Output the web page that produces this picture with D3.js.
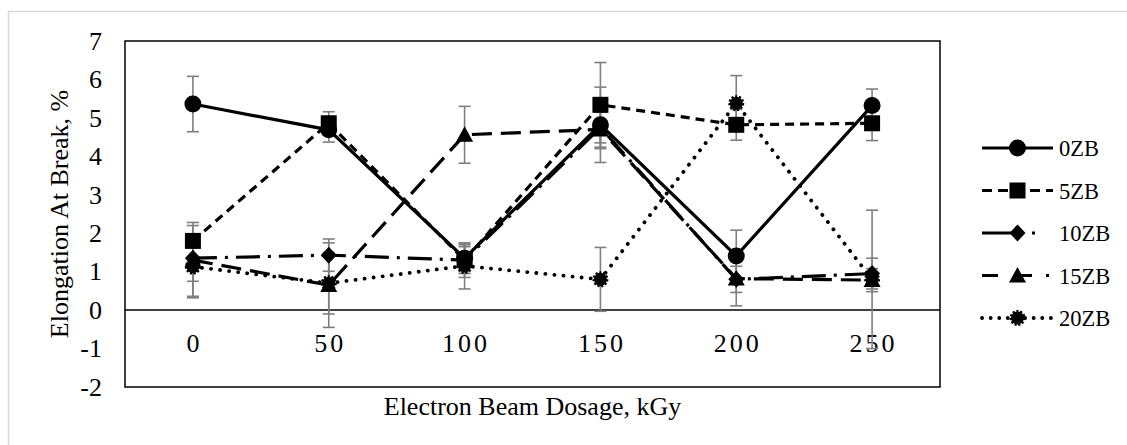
<!DOCTYPE html>
<html>
<head>
<meta charset="utf-8">
<script src="https://cdn.jsdelivr.net/npm/d3@7"></script>
<style>
  body { margin: 0; background: #fff; }
  text { font-family: "Liberation Serif", "Times New Roman", serif; fill: #000; }
</style>
</head>
<body>
<div id="chart"></div>
<script>
// dosage categories
const doses = ["0", "50", "100", "150", "200", "250"];
const yTicks = [-2, -1, 0, 1, 2, 3, 4, 5, 6, 7];

// series values (elongation at break, %) and error (+/-)
const zb0  = [5.36, 4.69, 1.35, 4.82, 1.41, 5.32];
const err0 = [0.72, 0.32, 0.35, 0.98, 0.67, 0.43];
const zb5  = [1.80, 4.86, 1.30, 5.34, 4.82, 4.86];
const err5 = [0.40, 0.30, 0.45, 1.10, 0.40, 0.45];
const zb10  = [1.35, 1.43, 1.30, 4.75, 0.80, 0.95];
const err10 = [0.60, 0.42, 0.35, 0.40, 0.34, 0.40];
const zb15  = [1.30, 0.65, 4.56, 4.70, 0.82, 0.78];
const err15 = [0.98, 1.10, 0.74, 0.50, 0.71, 0.30];
const zb20  = [1.13, 0.70, 1.15, 0.80, 5.38, 0.80];
const err20 = [0.77, 0.80, 0.60, 0.83, 0.72, 1.80];

const seriesNames = ["0ZB", "5ZB", "10ZB", "15ZB", "20ZB"];
const seriesVals = [zb0, zb5, zb10, zb15, zb20];
const seriesErr = [err0, err5, err10, err15, err20];

// drawing styles for each series (legend gets its own dash so it reads like the original)
const styles = [
  { dash: null,       legendDash: null,             marker: "circle" },
  { dash: "9,6",      legendDash: "10,6",           marker: "square" },
  { dash: "24,8,3,8", legendDash: "35,15,3,40",     marker: "diamond" },
  { dash: "20,9",     legendDash: "16,18,16,14,3,30", marker: "triangle" },
  { dash: "0.1,9",    legendDash: "0.1,8.5",        marker: "dotcircle" }
];

const W = 1127, H = 445;
const plot = { left: 125, top: 41, right: 940, bottom: 387 };

const svg = d3.select("#chart").append("svg")
    .attr("width", W)
    .attr("height", H);

// outer chart-area border (runs off the right/bottom of the picture)
svg.append("rect")
    .attr("x", 8.5).attr("y", 11.5)
    .attr("width", W).attr("height", H)
    .attr("fill", "none")
    .attr("stroke", "#d9d9d9")
    .attr("stroke-width", 1.5);

const x = d3.scaleBand()
    .domain(doses)
    .range([plot.left, plot.right])
    .padding(0);
const cx = d => x(d) + x.bandwidth() / 2;

const y = d3.scaleLinear()
    .domain([-2, 7])
    .range([plot.bottom, plot.top]);

// plot frame
svg.append("rect")
    .attr("x", plot.left).attr("y", plot.top)
    .attr("width", plot.right - plot.left)
    .attr("height", plot.bottom - plot.top)
    .attr("fill", "none")
    .attr("stroke", "#000")
    .attr("stroke-width", 1.5);

// zero line
svg.append("line")
    .attr("x1", plot.left).attr("x2", plot.right)
    .attr("y1", y(0)).attr("y2", y(0))
    .attr("stroke", "#000")
    .attr("stroke-width", 1.5);

// y axis labels
const yAxis = svg.append("g")
    .attr("transform", `translate(${plot.left},0)`)
    .call(d3.axisLeft(y).tickValues(yTicks).tickSize(0).tickPadding(23)
        .tickFormat(d => String(d)));
yAxis.attr("font-family", "Liberation Serif").attr("font-size", 26);
yAxis.select(".domain").remove();
yAxis.selectAll("text")
    .style("font-family", "'Liberation Serif'")
    .style("font-size", "26px")
    .attr("fill", "#000");

// x category labels, sitting under the zero line
svg.append("g").selectAll("text")
    .data(doses)
    .enter().append("text")
    .attr("x", d => cx(d) + 1.5)
    .attr("y", 352)
    .attr("text-anchor", "middle")
    .style("font-size", "26px")
    .style("letter-spacing", "3px")
    .text(d => d);

// axis titles
svg.append("text")
    .attr("x", (plot.left + plot.right) / 2)
    .attr("y", 415)
    .attr("text-anchor", "middle")
    .style("font-size", "26px")
    .text("Electron Beam Dosage, kGy");

svg.append("text")
    .attr("transform", `translate(68,${(plot.top + plot.bottom) / 2}) rotate(-90)`)
    .attr("text-anchor", "middle")
    .style("font-size", "26px")
    .text("Elongation At Break, %");

// marker drawing
function drawMarker(g, type, px, py) {
  if (type === "circle") {
    g.append("circle").attr("cx", px).attr("cy", py).attr("r", 8.5).attr("fill", "#000");
  } else if (type === "square") {
    g.append("rect").attr("x", px - 8).attr("y", py - 8).attr("width", 16).attr("height", 16).attr("fill", "#000");
  } else if (type === "diamond") {
    g.append("path")
        .attr("d", `M${px},${py - 8.5}L${px + 8},${py}L${px},${py + 8.5}L${px - 8},${py}Z`)
        .attr("fill", "#000");
  } else if (type === "triangle") {
    g.append("path")
        .attr("d", `M${px},${py - 8.5}L${px + 8.5},${py + 7}L${px - 8.5},${py + 7}Z`)
        .attr("fill", "#000");
  } else {
    g.append("circle").attr("cx", px).attr("cy", py).attr("r", 6.5)
        .attr("fill", "#000")
        .attr("stroke", "#000")
        .attr("stroke-width", 3)
        .attr("stroke-dasharray", "2,1.6");
  }
}

const line = d3.line()
    .x((d, i) => cx(doses[i]))
    .y(d => y(d));

// lines
const lines = svg.append("g");
seriesVals.forEach((vals, s) => {
  lines.append("path")
      .datum(vals)
      .attr("d", line)
      .attr("fill", "none")
      .attr("stroke", "#000")
      .attr("stroke-width", styles[s].marker === "dotcircle" ? 3.8 : 3.2)
      .attr("stroke-linecap", styles[s].marker === "dotcircle" ? "round" : "butt")
      .attr("stroke-dasharray", styles[s].dash);
});

// error bars
const errs = svg.append("g")
    .attr("stroke", "#7f7f7f")
    .attr("stroke-width", 1.6);
seriesVals.forEach((vals, s) => {
  vals.forEach((v, i) => {
    const px = cx(doses[i]);
    const hi = y(v + seriesErr[s][i]), lo = y(v - seriesErr[s][i]);
    errs.append("line").attr("x1", px).attr("x2", px).attr("y1", hi).attr("y2", lo);
    errs.append("line").attr("x1", px - 6).attr("x2", px + 6).attr("y1", hi).attr("y2", hi);
    errs.append("line").attr("x1", px - 6).attr("x2", px + 6).attr("y1", lo).attr("y2", lo);
  });
});

// markers
const marks = svg.append("g");
seriesVals.forEach((vals, s) => {
  vals.forEach((v, i) => drawMarker(marks, styles[s].marker, cx(doses[i]), y(v)));
});

// legend
const legend = svg.append("g");
const legendRows = d3.scaleLinear().domain([0, 4]).range([148, 318]);
seriesNames.forEach((name, s) => {
  const ly = legendRows(s);
  legend.append("line")
      .attr("x1", 982).attr("x2", 1053)
      .attr("y1", ly).attr("y2", ly)
      .attr("stroke", "#000")
      .attr("stroke-width", styles[s].marker === "dotcircle" ? 3.8 : 3.2)
      .attr("stroke-linecap", styles[s].marker === "dotcircle" ? "round" : "butt")
      .attr("stroke-dasharray", styles[s].legendDash);
  drawMarker(legend, styles[s].marker, 1017.5, ly);
  legend.append("text")
      .attr("x", 1059)
      .attr("y", ly + 8)
      .style("font-size", "22.5px")
      .text(name);
});
</script>
</body>
</html>
